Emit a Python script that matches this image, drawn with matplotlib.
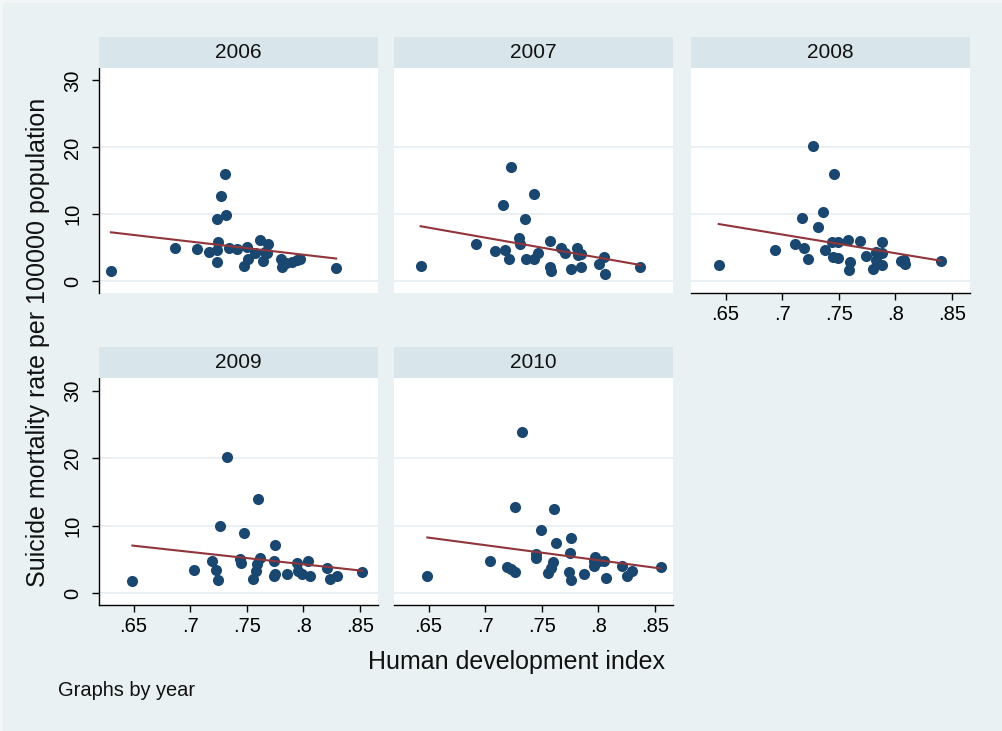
import numpy as np
import matplotlib
matplotlib.use("Agg")
import matplotlib.pyplot as plt
from matplotlib.patches import Rectangle

plt.rcParams['font.family'] = ['Liberation Sans', 'DejaVu Sans']

# HDI vs suicide mortality, one panel per year
years = [2006, 2007, 2008, 2009, 2010]

hdi_2006 = [0.630, 0.687, 0.706, 0.717, 0.724, 0.724, 0.725, 0.724, 0.727, 0.731,
            0.732, 0.734, 0.741, 0.750, 0.748, 0.751, 0.757, 0.762, 0.764, 0.766,
            0.769, 0.768, 0.780, 0.781, 0.785, 0.790, 0.794, 0.797, 0.829]
rate_2006 = [1.6, 4.9, 4.8, 4.4, 2.9, 9.3, 5.9, 4.6, 12.7, 16.1,
             9.9, 5.0, 4.8, 5.1, 2.3, 3.3, 4.2, 6.2, 3.0, 4.3,
             5.5, 4.2, 3.4, 2.2, 2.8, 2.9, 3.2, 3.3, 2.0]

hdi_2007 = [0.643, 0.692, 0.709, 0.718, 0.721, 0.716, 0.723, 0.730, 0.731, 0.735,
            0.736, 0.743, 0.743, 0.747, 0.757, 0.757, 0.758, 0.767, 0.771, 0.776,
            0.781, 0.782, 0.785, 0.785, 0.801, 0.805, 0.806, 0.837]
rate_2007 = [2.3, 5.5, 4.5, 4.7, 3.4, 11.4, 17.0, 6.4, 5.6, 9.3,
             3.4, 13.1, 3.3, 4.2, 6.0, 2.1, 1.5, 5.0, 4.2, 1.9,
             4.9, 4.0, 4.1, 2.1, 2.6, 3.6, 1.1, 2.1]

hdi_2008 = [0.644, 0.694, 0.711, 0.718, 0.719, 0.723, 0.727, 0.732, 0.736, 0.738,
            0.744, 0.745, 0.746, 0.749, 0.749, 0.758, 0.760, 0.759, 0.769, 0.774,
            0.780, 0.783, 0.783, 0.788, 0.788, 0.788, 0.805, 0.808, 0.809, 0.840]
rate_2008 = [2.5, 4.7, 5.5, 9.5, 4.9, 3.4, 20.2, 8.1, 10.3, 4.7,
             5.9, 3.6, 16.0, 5.8, 3.5, 6.2, 2.9, 1.7, 6.0, 3.8,
             1.9, 3.2, 4.3, 5.9, 4.2, 2.5, 3.0, 3.2, 2.6, 3.1]

hdi_2009 = [0.649, 0.703, 0.719, 0.723, 0.725, 0.726, 0.733, 0.744, 0.745, 0.748,
            0.756, 0.758, 0.759, 0.760, 0.762, 0.774, 0.775, 0.774, 0.775, 0.786,
            0.794, 0.795, 0.799, 0.804, 0.806, 0.821, 0.824, 0.830, 0.852]
rate_2009 = [1.8, 3.4, 4.8, 3.4, 1.9, 9.9, 20.2, 5.1, 4.4, 8.9,
             2.1, 3.3, 4.3, 14.0, 5.2, 2.5, 2.8, 4.8, 7.1, 2.9,
             4.4, 3.3, 2.8, 4.7, 2.6, 3.8, 2.1, 2.5, 3.1]

hdi_2010 = [0.649, 0.704, 0.719, 0.723, 0.726, 0.726, 0.733, 0.745, 0.745, 0.749,
            0.756, 0.758, 0.760, 0.761, 0.763, 0.774, 0.776, 0.775, 0.776, 0.787,
            0.796, 0.797, 0.796, 0.801, 0.805, 0.807, 0.821, 0.825, 0.830, 0.855]
rate_2010 = [2.5, 4.8, 3.9, 3.6, 3.2, 12.7, 23.8, 5.2, 5.8, 9.4,
             3.0, 3.8, 4.6, 12.4, 7.5, 3.2, 8.2, 6.0, 1.9, 2.9,
             4.0, 5.4, 4.7, 4.8, 4.7, 2.2, 4.0, 2.6, 3.3, 3.9]

hdi = [hdi_2006, hdi_2007, hdi_2008, hdi_2009, hdi_2010]
rate = [rate_2006, rate_2007, rate_2008, rate_2009, rate_2010]

xticks = [0.65, 0.70, 0.75, 0.80, 0.85]
xticklabels = ['.65', '.7', '.75', '.8', '.85']
yticks = [0, 10, 20, 30]

bg = '#E9F1F3'
strip_col = '#D8E5EB'
grid_col = '#E6EEF1'
navy = '#1A476F'
maroon = '#90353B'
W, H = 1003, 731

fig = plt.figure(figsize=(W / 100, H / 100), dpi=100)
fig.patch.set_facecolor('#F2F6F7')
fig.patches.append(Rectangle((3 / W, 0), 1 - 3 / W, 1 - 3 / H, transform=fig.transFigure,
                             facecolor=bg, edgecolor='none', zorder=-1))

col_left = [99, 394, 691]
col_w = 279
rows = [(68, 293), (378, 605)]
strip_h = 31

for i, yr in enumerate(years):
    r, c = divmod(i, 3)
    top, bot = rows[r]
    ax = fig.add_axes([col_left[c] / W, 1 - bot / H, col_w / W, (bot - top) / H])
    ax.set_facecolor('white')
    ax.set_xlim(0.6195, 0.866)
    ax.set_ylim(-1.75, 31.86)

    x = np.array(hdi[i])
    y = np.array(rate[i])
    ax.scatter(x, y, s=64, color=navy, linewidths=0, zorder=3)
    b, a = np.polyfit(x, y, 1)
    xs = np.array([x.min(), x.max()])
    ax.plot(xs, a + b * xs, color=maroon, lw=1.5, zorder=4)

    ax.set_yticks(yticks)
    ax.set_xticks(xticks)
    ax.grid(axis='y', color=grid_col, lw=1.2, zorder=0)
    ax.get_ygridlines()[-1].set_visible(False)

    for s in ax.spines.values():
        s.set_visible(False)
    show_y = (c == 0)
    show_x = (i >= 2)
    ax.tick_params(axis='y', left=show_y, labelleft=show_y, length=5, width=1,
                   pad=7, labelsize=14.5, labelrotation=90, color='black')
    ax.tick_params(axis='x', bottom=show_x, labelbottom=show_x, length=5, width=1,
                   pad=4, labelsize=14.5, color='black')
    for lab in ax.get_yticklabels():
        lab.set_va('center')
    if show_y:
        ax.spines['left'].set_visible(True)
        ax.spines['left'].set_linewidth(1)
    if show_x:
        ax.spines['bottom'].set_visible(True)
        ax.spines['bottom'].set_linewidth(1)
        ax.set_xticklabels(xticklabels)

    # year header strip
    sax = fig.add_axes([col_left[c] / W, 1 - top / H, col_w / W, strip_h / H])
    sax.set_facecolor(strip_col)
    sax.set_xticks([])
    sax.set_yticks([])
    for s in sax.spines.values():
        s.set_visible(False)
    sax.text(0.5, 0.5, str(yr), ha='center', va='center', fontsize=15,
             transform=sax.transAxes, color='#111111')

fig.text(38 / W, 1 - 342 / H, 'Suicide mortality rate per 100000 population',
         rotation=90, ha='center', va='center', fontsize=18, color='#111111')
fig.text(516 / W, 1 - 662 / H, 'Human development index',
         ha='center', va='center', fontsize=18, color='#111111')
fig.text(58 / W, 1 - 690 / H, 'Graphs by year', ha='left', va='center',
         fontsize=14.4, color='#111111')

fig.savefig('out.png', dpi=100, facecolor=fig.get_facecolor())
